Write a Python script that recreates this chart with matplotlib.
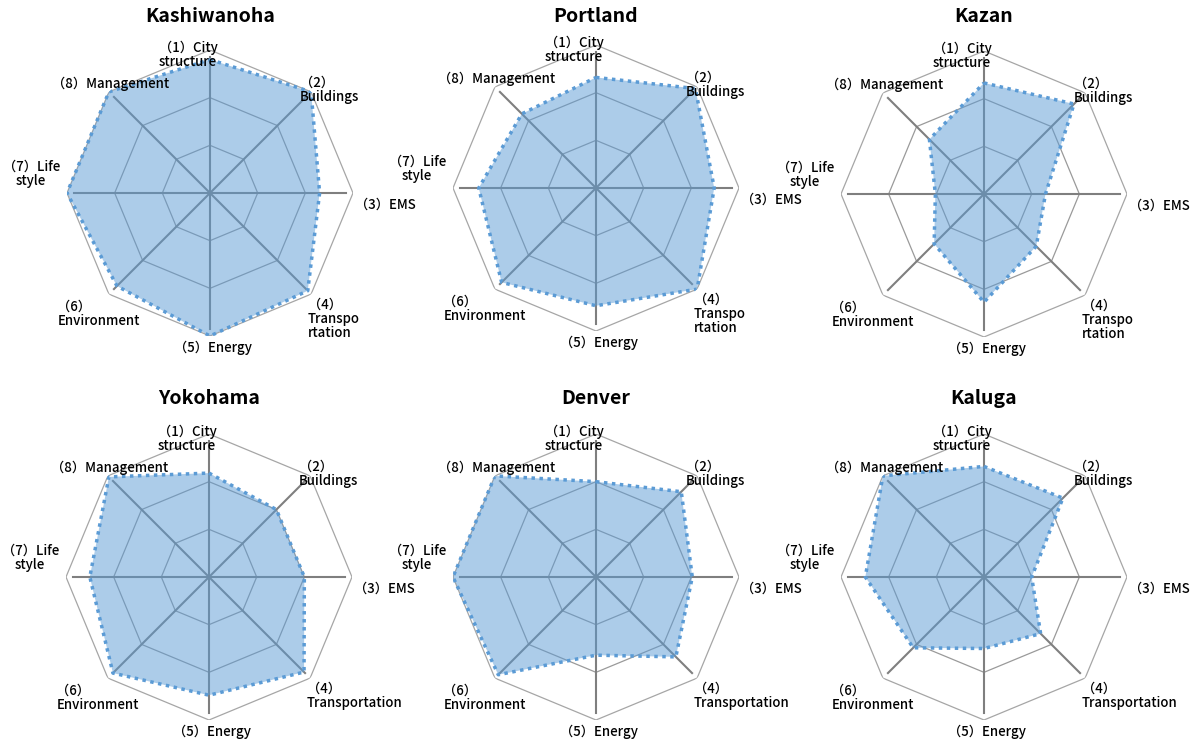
import numpy as np
import matplotlib
matplotlib.use("Agg")
import matplotlib.pyplot as plt

plt.rcParams['font.family'] = ['Noto Sans CJK JP', 'DejaVu Sans']

# Data
cities = ["Kashiwanoha", "Portland", "Kazan", "Yokohama", "Denver", "Kaluga"]
kashiwanoha = [2.80, 3.00, 2.30, 2.90, 3.00, 2.76, 3.00, 3.00]
portland = [2.32, 2.95, 2.48, 3.00, 2.47, 2.80, 2.46, 2.20]
kazan = [2.33, 2.67, 1.29, 1.55, 2.27, 1.48, 1.02, 1.62]
yokohama = [2.18, 2.00, 2.00, 2.82, 2.48, 2.85, 2.50, 2.97]
denver = [2.00, 2.53, 2.02, 2.37, 1.64, 2.90, 3.00, 3.00]
kaluga = [2.32, 2.34, 1.00, 1.68, 1.50, 2.10, 2.49, 3.00]
scores = [kashiwanoha, portland, kazan, yokohama, denver, kaluga]

labels_top = ["（1）City\nstructure", "（2）\nBuildings", "（3）EMS",
              "（4）\nTranspo\nrtation", "（5）Energy", "（6）\nEnvironment",
              "（7）Life\nstyle", "（8）Management"]
labels_bottom = labels_top[:3] + ["（4）\nTransportation"] + labels_top[4:]

# Layout (pixels) for each panel: centre x, centre y, radius
W, H = 1199, 742
centres = [(210, 193), (596, 188), (984, 194), (209, 577), (596, 577), (984, 577)]
title_y = [17, 17, 17, 398, 398, 398]
R = 143

# label positions in data units (x right, y up), alignment
label_pos = [(-0.46, 2.90, 'center', 'center'), (1.89, 2.16, 'left', 'center'),
             (3.04, -0.25, 'left', 'center'), (2.05, -2.20, 'left', 'top'),
             (0.06, -3.25, 'center', 'center'), (-3.20, -2.54, 'left', 'center'),
             (-3.75, 0.40, 'center', 'center'), (-2.08, 2.30, 'center', 'center')]

n = 8
angles = np.arange(n) * 2 * np.pi / n
closed = np.append(angles, angles[0])

fig = plt.figure(figsize=(W / 100, H / 100), dpi=100)

for i, (city, vals) in enumerate(zip(cities, scores)):
    cx, cy = centres[i]
    ax = fig.add_axes([(cx - R) / W, 1 - (cy + R) / H, 2 * R / W, 2 * R / H],
                      projection='polar')
    ax.set_theta_zero_location('N')
    ax.set_theta_direction(-1)
    ax.set_ylim(0, 3)
    ax.axis('off')

    # grid rings
    for r in [1, 2]:
        ax.plot(closed, [r] * (n + 1), color='#9a9a9a', lw=0.9, zorder=1)
    ax.plot(closed, [3] * (n + 1), color='#a6a6a6', lw=0.9, zorder=1)
    # spokes
    for a in angles:
        ax.plot([a, a], [0, 2.85], color='#7f7f7f', lw=1.5, zorder=1)

    v = np.append(vals, vals[0])
    ax.fill(closed, v, color='#5b9bd5', alpha=0.5, lw=0, zorder=2)
    ax.plot(closed, v, color='#5b9bd5', lw=2.5, ls=(0, (1, 1.3)),
            dash_capstyle='butt', zorder=3)

    labels = labels_top if i < 3 else labels_bottom
    for lab, (x, y, ha, va) in zip(labels, label_pos):
        ax.text(np.arctan2(x, y), np.hypot(x, y), lab, ha=ha, va=va,
                fontsize=9.5, fontweight='medium', linespacing=1.0, color='black')

    fig.text(cx / W, 1 - title_y[i] / H, city, ha='center', va='center',
             fontsize=14, fontweight='bold')

fig.savefig("out.png", dpi=100)
